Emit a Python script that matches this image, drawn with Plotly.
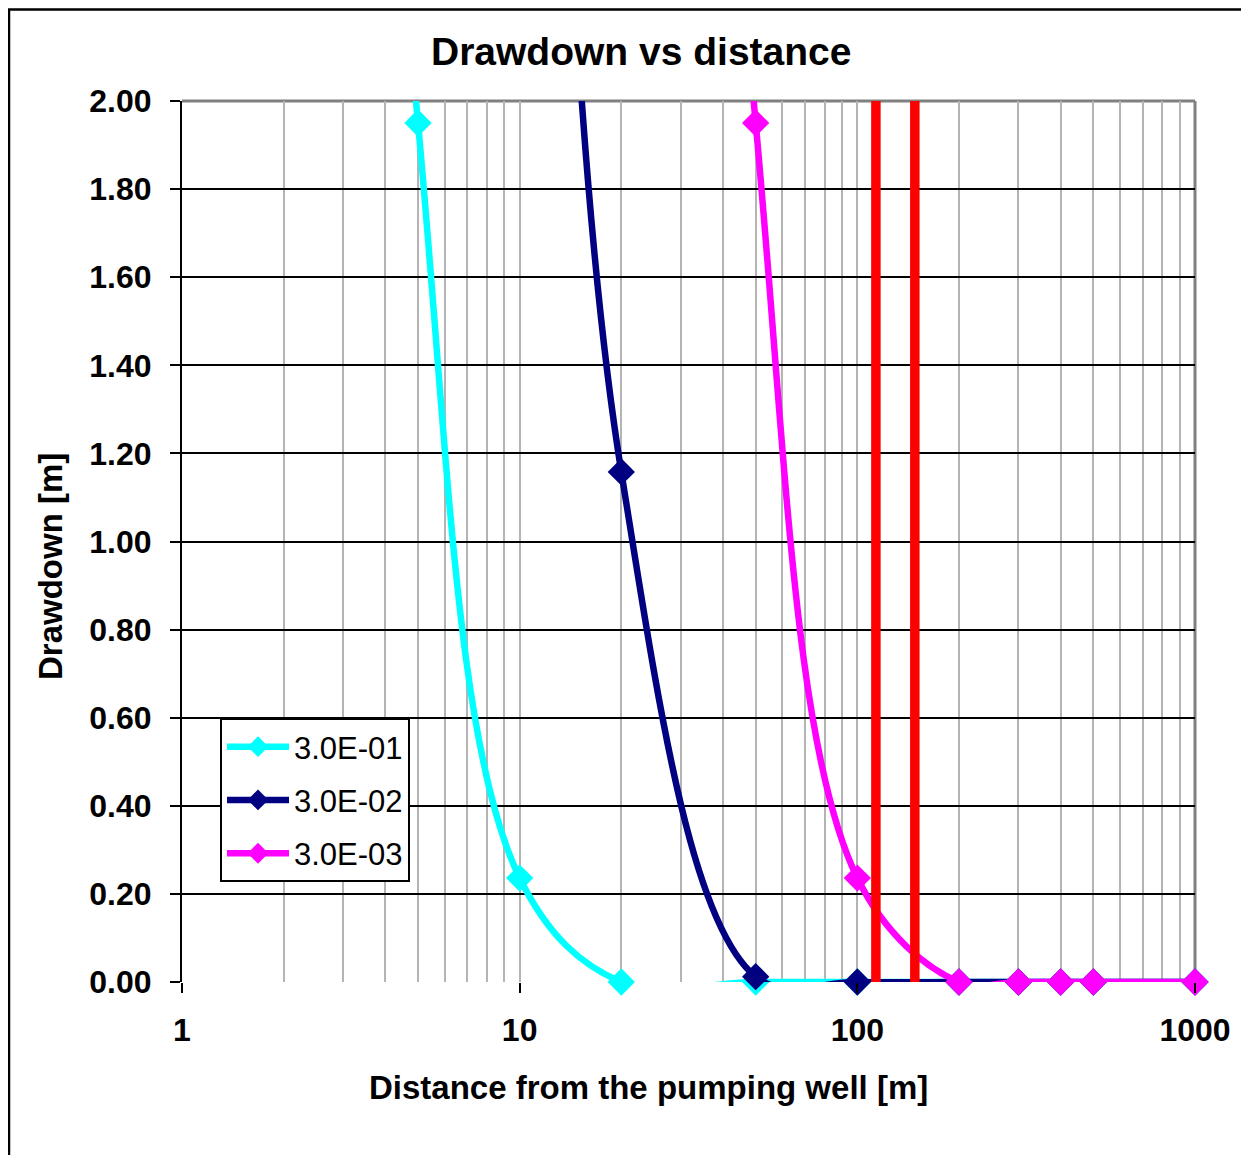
import plotly.graph_objects as go

# ---- data ----
distance = [1, 2, 5, 10, 20, 50, 100, 200, 300, 400, 500, 1000]
s_3e01 = [12.0, 8.0, 1.95, 0.236, 0.0, 0.0, 0.0, 0.0, 0.0, 0.0, 0.0, 0.0]
s_3e02 = [18.0, 14.0, 9.0, 5.0, 1.158, 0.012, 0.0, 0.0, 0.0, 0.0, 0.0, 0.0]
s_3e03 = [24.0, 20.0, 15.0, 12.0, 8.0, 1.95, 0.236, 0.0, 0.0, 0.0, 0.0, 0.0]
series_names = ["3.0E-01", "3.0E-02", "3.0E-03"]
series_colors = ["#00FFFF", "#000080", "#FF00FF"]
red_lines_x = [113.5, 148.0]
red_lines_y = [0.0, 2.0]
x_ticks = [1, 10, 100, 1000]
y_ticks = [0.0, 0.2, 0.4, 0.6, 0.8, 1.0, 1.2, 1.4, 1.6, 1.8, 2.0]

FONT = "Liberation Sans, Arial, sans-serif"

# page body has an 8px margin: compensate so the plot area lands at x 182..1195, y 101..982
OFF = 8
PL, PT, PW, PH = 182 - OFF, 101 - OFF, 1013, 881
W, H = 1249 - OFF, 1155 - OFF


def px(xp):
    return (xp - 182) / PW


def py(yp):
    return (982 - yp) / PH


fig = go.Figure()
for name, ys, col in zip(series_names, [s_3e01, s_3e02, s_3e03], series_colors):
    fig.add_trace(go.Scatter(
        x=distance, y=ys, name=name, mode="lines+markers",
        line=dict(color=col, width=6.5, shape="spline", smoothing=1.0),
        marker=dict(symbol="diamond", size=21, color=col),
        legendgroup=name, cliponaxis=False,
    ))
for xv in red_lines_x:
    fig.add_trace(go.Scatter(
        x=[xv, xv], y=red_lines_y, mode="lines",
        line=dict(color="#FF0000", width=9.5), showlegend=False, hoverinfo="skip",
    ))

minor_vals = [m * 10 ** k for k in range(3) for m in range(2, 10)]

fig.update_layout(
    width=W, height=H,
    margin=dict(l=PL, r=W - PL - PW, t=PT, b=H - PT - PH),
    paper_bgcolor="white", plot_bgcolor="white",
    font=dict(family=FONT, color="black", size=29),
    showlegend=True,
    legend=dict(
        x=px(220), y=py(718), xanchor="left", yanchor="top",
        bgcolor="white", bordercolor="black", borderwidth=2,
        font=dict(family=FONT, size=31, color="black"),
        tracegroupgap=10, itemwidth=62,
    ),
    xaxis=dict(
        type="log", range=[0, 3],
        tickvals=x_ticks, ticktext=[str(v) for v in x_ticks],
        tickfont=dict(family=FONT, size=32, color="black", weight="bold"),
        ticks="outside", ticklen=10, tickwidth=2, tickcolor="black",
        ticklabelstandoff=10,
        showgrid=True, gridcolor="#B4B4B4", gridwidth=2,
        minor=dict(tickvals=minor_vals, showgrid=True, gridcolor="#B4B4B4", gridwidth=2, ticks=""),
        showline=False, zeroline=False,
    ),
    yaxis=dict(
        range=[0, 2],
        tickvals=y_ticks, tickformat=".2f",
        tickfont=dict(family=FONT, size=32, color="black", weight="bold"),
        ticks="outside", ticklen=10, tickwidth=2, tickcolor="black",
        ticklabelstandoff=12,
        showgrid=True, gridcolor="black", gridwidth=2,
        showline=True, linecolor="black", linewidth=2,
        zeroline=False,
    ),
    shapes=[
        dict(type="line", xref="paper", yref="paper", x0=0, x1=1, y0=1, y1=1,
             line=dict(color="#808080", width=3), layer="between"),
        dict(type="line", xref="paper", yref="paper", x0=1, x1=1, y0=0, y1=1,
             line=dict(color="#808080", width=3), layer="between"),
        dict(type="rect", xref="paper", yref="paper",
             x0=px(9), x1=px(1262), y0=py(1170), y1=py(9.5),
             line=dict(color="black", width=2.5), fillcolor="rgba(0,0,0,0)", layer="above"),
    ],
    annotations=[
        dict(text="<b>Drawdown vs distance</b>", xref="paper", yref="paper",
             x=px(641), y=py(52), xanchor="center", yanchor="middle",
             showarrow=False, font=dict(family=FONT, size=39, color="black")),
        dict(text="<b>Distance from the pumping well [m]</b>", xref="paper", yref="paper",
             x=px(648), y=py(1087), xanchor="center", yanchor="middle",
             showarrow=False, font=dict(family=FONT, size=33, color="black")),
        dict(text="<b>Drawdown [m]</b>", xref="paper", yref="paper", textangle=-90,
             x=px(50), y=py(567), xanchor="center", yanchor="middle",
             showarrow=False, font=dict(family=FONT, size=33, color="black")),
    ],
)

fig.write_html("out.html")
